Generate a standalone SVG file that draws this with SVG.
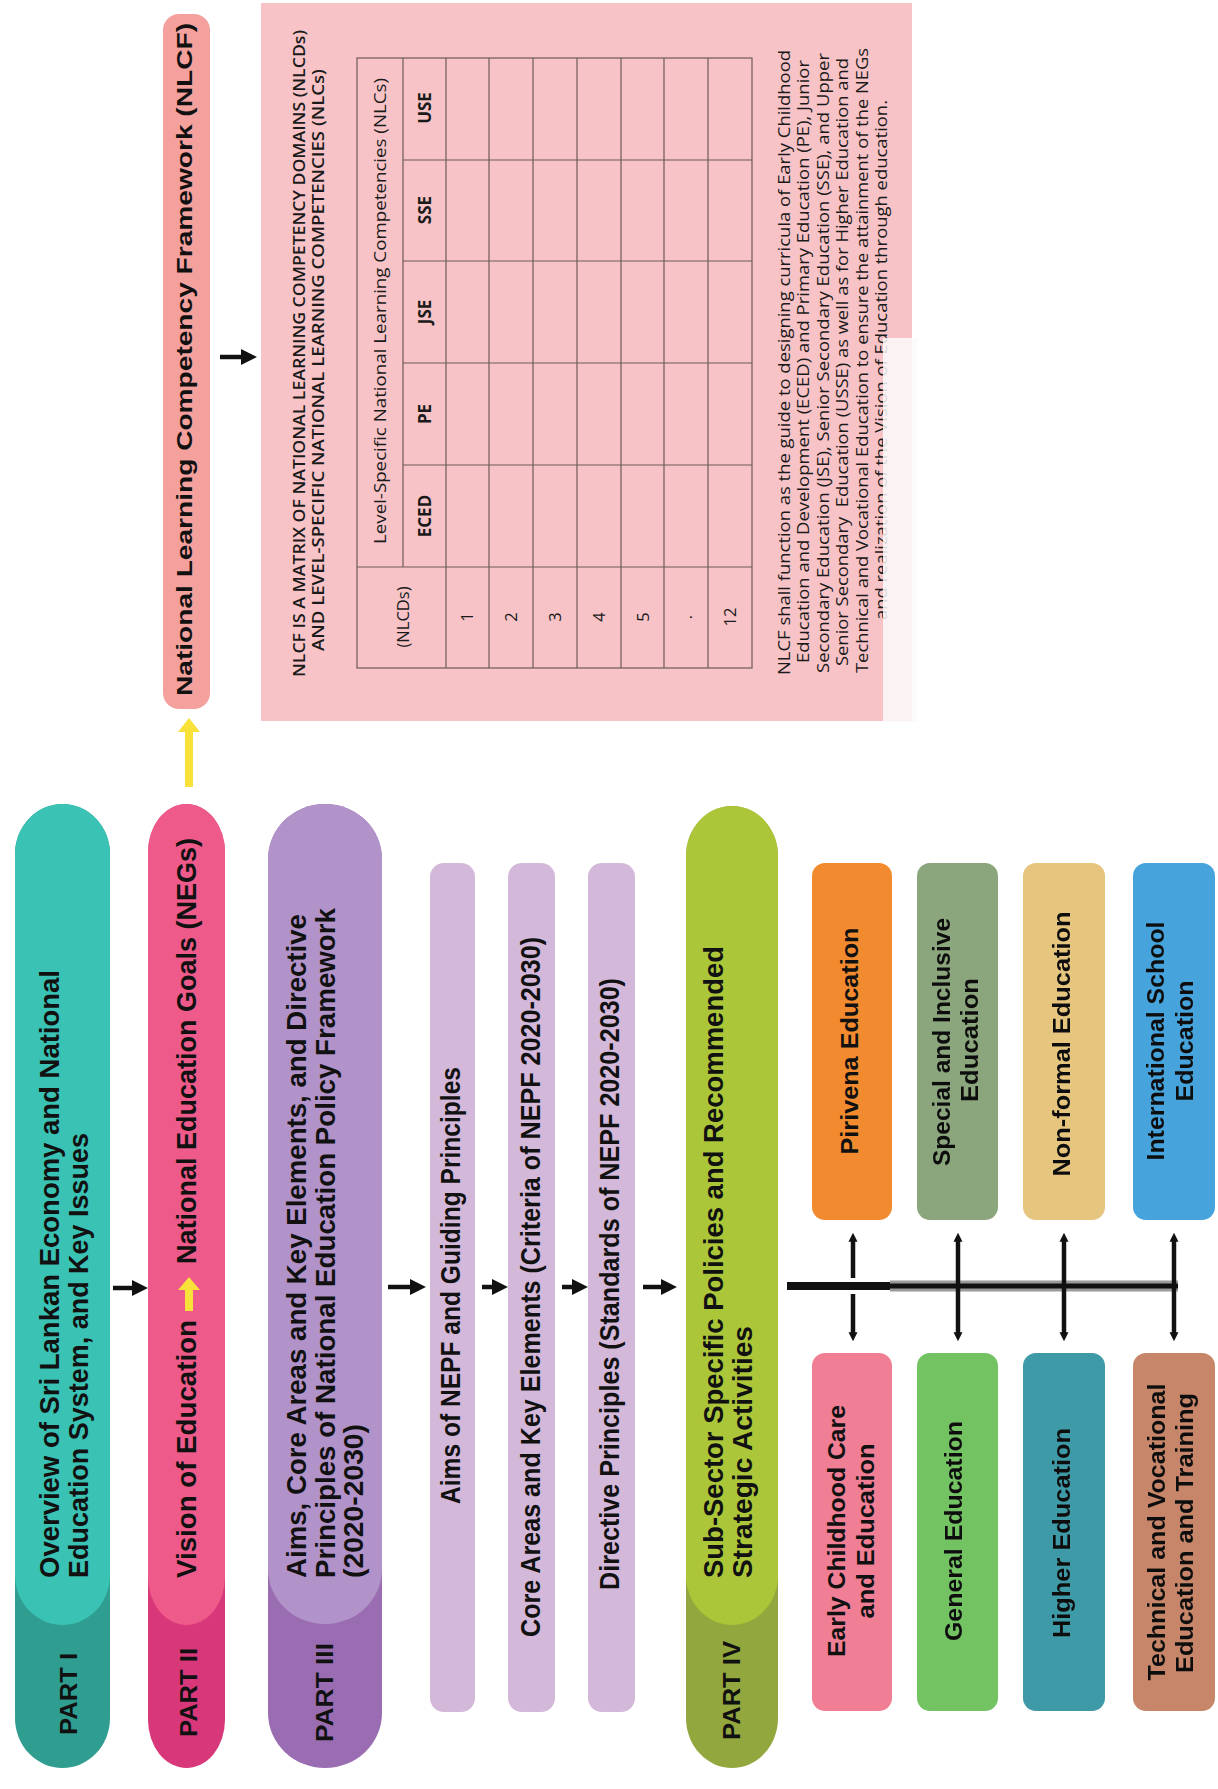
<svg xmlns="http://www.w3.org/2000/svg" width="1218" height="1789" viewBox="0 0 1218 1789">
  <defs>
    <style>
      .hd { font-family: 'Liberation Sans Narrow', 'Liberation Sans', Arial, sans-serif; font-weight: bold; fill: #111; }
      .big { font-size: 27px; }
      .part { font-size: 24px; }
      .box { font-size: 24px; }
      .nlcf { font-size: 22px; }
      .tx { font-family: 'Open Sans', 'Noto Sans', 'Liberation Sans', sans-serif; fill: #1a1a1a; font-weight: 500; }
      .cap { font-size: 16.5px; font-weight: 600; }
      .cell { font-size: 16.5px; }
      .colh { font-size: 17px; font-weight: bold; }
      .para { font-size: 17px; }
      .grid { stroke: #6e5a5c; stroke-width: 1.2; fill: none; }
      .arrow { stroke: #111; stroke-width: 4.5; fill: none; }
      .blurry { filter: url(#soft); }
    </style>
    <filter id="soft" x="-5%" y="-5%" width="110%" height="110%">
      <feGaussianBlur stdDeviation="0.7"/>
    </filter>
    <marker id="ah" viewBox="0 0 10 10" refX="2" refY="5" markerWidth="3.6" markerHeight="4.4" orient="auto" markerUnits="strokeWidth">
      <path d="M0,0 L10,5 L0,10 Z" fill="#111"/>
    </marker>
    <marker id="ahFlat" viewBox="0 0 10 10" refX="2" refY="5" markerWidth="2" markerHeight="5" orient="auto-start-reverse" markerUnits="strokeWidth">
      <path d="M0,0 L10,5 L0,10 Z" fill="#111"/>
    </marker>
  </defs>

  <rect width="1218" height="1789" fill="#ffffff"/>

  <!-- PART I -->
  <g id="part1">
    <rect x="15" y="804" width="95" height="964" rx="47.5" ry="50" fill="#2f9d8f"/>
    <rect x="15" y="804" width="95" height="821" rx="47.5" ry="50" fill="#3ac2b4"/>
    <text class="hd big" transform="translate(59,1578) rotate(-90)" textLength="608" lengthAdjust="spacingAndGlyphs">Overview of Sri Lankan Economy and National</text>
    <text class="hd big" transform="translate(88,1578) rotate(-90)" textLength="445" lengthAdjust="spacingAndGlyphs">Education System, and Key Issues</text>
    <text class="hd part" transform="translate(77,1735) rotate(-90)" textLength="82" lengthAdjust="spacingAndGlyphs">PART I</text>
  </g>

  <!-- PART II -->
  <g id="part2">
    <rect x="148" y="804" width="77" height="964" rx="38.5" ry="48" fill="#d8387a"/>
    <rect x="148" y="804" width="77" height="821" rx="38.5" ry="48" fill="#ee5a8a"/>
    <text class="hd big" transform="translate(196,1578) rotate(-90)" textLength="258" lengthAdjust="spacingAndGlyphs">Vision of Education</text>
    <path d="M189,1277 L200,1290 L193,1290 L193,1311 L185,1311 L185,1290 L178,1290 Z" fill="#f8e23a"/>
    <text class="hd big" transform="translate(196,1264) rotate(-90)" textLength="426" lengthAdjust="spacingAndGlyphs">National Education Goals (NEGs)</text>
    <text class="hd part" transform="translate(197,1737) rotate(-90)" textLength="89" lengthAdjust="spacingAndGlyphs">PART II</text>
  </g>

  <!-- PART III -->
  <g id="part3">
    <rect x="268" y="804" width="114" height="964" rx="57" ry="55" fill="#9a6db2"/>
    <rect x="268" y="804" width="114" height="820" rx="57" ry="55" fill="#b293c9"/>
    <text class="hd big" transform="translate(306,1578) rotate(-90)" textLength="664" lengthAdjust="spacingAndGlyphs">Aims, Core Areas and Key Elements, and Directive</text>
    <text class="hd big" transform="translate(335,1578) rotate(-90)" textLength="670" lengthAdjust="spacingAndGlyphs">Principles of National Education Policy Framework</text>
    <text class="hd big" transform="translate(363,1578) rotate(-90)" textLength="154" lengthAdjust="spacingAndGlyphs">(2020-2030)</text>
    <text class="hd part" transform="translate(333,1742) rotate(-90)" textLength="99" lengthAdjust="spacingAndGlyphs">PART III</text>
  </g>

  <!-- PART III sub-bars -->
  <g id="aims">
    <rect x="430" y="863" width="45" height="849" rx="14" fill="#d3b8da"/>
    <text class="hd big" transform="translate(460,1504) rotate(-90)" textLength="437" lengthAdjust="spacingAndGlyphs">Aims of NEPF and Guiding Principles</text>
  </g>
  <g id="core-areas">
    <rect x="508" y="863" width="47" height="849" rx="14" fill="#d3b8da"/>
    <text class="hd big" transform="translate(540,1637) rotate(-90)" textLength="700" lengthAdjust="spacingAndGlyphs">Core Areas and Key Elements (Criteria of NEPF 2020-2030)</text>
  </g>
  <g id="directive">
    <rect x="588" y="863" width="47" height="849" rx="14" fill="#d3b8da"/>
    <text class="hd big" transform="translate(619,1590) rotate(-90)" textLength="612" lengthAdjust="spacingAndGlyphs">Directive Principles (Standards of NEPF 2020-2030)</text>
  </g>

  <!-- PART IV -->
  <g id="part4">
    <rect x="686" y="806" width="92" height="962" rx="46" ry="50" fill="#92a73e"/>
    <rect x="686" y="806" width="92" height="819" rx="46" ry="50" fill="#acc63a"/>
    <text class="hd big" transform="translate(723,1578) rotate(-90)" textLength="632" lengthAdjust="spacingAndGlyphs">Sub-Sector Specific Policies and Recommended</text>
    <text class="hd big" transform="translate(752,1578) rotate(-90)" textLength="252" lengthAdjust="spacingAndGlyphs">Strategic Activities</text>
    <text class="hd part" transform="translate(740,1740) rotate(-90)" textLength="99" lengthAdjust="spacingAndGlyphs">PART IV</text>
  </g>

  <!-- Sub-sectors -->
  <g id="pirivena">
    <rect x="812" y="863" width="80" height="357" rx="13" fill="#f28b2f"/>
    <text class="hd box" text-anchor="middle" transform="translate(858,1041) rotate(-90)" textLength="227" lengthAdjust="spacingAndGlyphs">Pirivena Education</text>
  </g>
  <g id="ecce">
    <rect x="812" y="1353" width="80" height="358" rx="13" fill="#f07e95"/>
    <text class="hd box" text-anchor="middle" transform="translate(845,1531) rotate(-90)" textLength="252" lengthAdjust="spacingAndGlyphs">Early Childhood Care</text>
    <text class="hd box" text-anchor="middle" transform="translate(874,1531) rotate(-90)" textLength="175" lengthAdjust="spacingAndGlyphs">and Education</text>
  </g>
  <g id="special" class="blurry">
    <rect x="917" y="863" width="81" height="357" rx="13" fill="#8ba67b"/>
    <text class="hd box" text-anchor="middle" transform="translate(950,1042) rotate(-90)" textLength="248" lengthAdjust="spacingAndGlyphs">Special and Inclusive</text>
    <text class="hd box" text-anchor="middle" transform="translate(978,1040) rotate(-90)" textLength="124" lengthAdjust="spacingAndGlyphs">Education</text>
  </g>
  <g id="general" class="blurry">
    <rect x="917" y="1353" width="81" height="358" rx="13" fill="#73c364"/>
    <text class="hd box" text-anchor="middle" transform="translate(962,1531) rotate(-90)" textLength="220" lengthAdjust="spacingAndGlyphs">General Education</text>
  </g>
  <g id="non-formal" class="blurry">
    <rect x="1023" y="863" width="82" height="357" rx="13" fill="#e6c57f"/>
    <text class="hd box" text-anchor="middle" transform="translate(1070,1044) rotate(-90)" textLength="265" lengthAdjust="spacingAndGlyphs">Non-formal Education</text>
  </g>
  <g id="higher" class="blurry">
    <rect x="1023" y="1353" width="82" height="358" rx="13" fill="#3e9aa6"/>
    <text class="hd box" text-anchor="middle" transform="translate(1070,1533) rotate(-90)" textLength="210" lengthAdjust="spacingAndGlyphs">Higher Education</text>
  </g>
  <g id="international" class="blurry">
    <rect x="1133" y="863" width="82" height="357" rx="13" fill="#46a3dc"/>
    <text class="hd box" text-anchor="middle" transform="translate(1164,1041) rotate(-90)" textLength="239" lengthAdjust="spacingAndGlyphs">International School</text>
    <text class="hd box" text-anchor="middle" transform="translate(1193,1041) rotate(-90)" textLength="121" lengthAdjust="spacingAndGlyphs">Education</text>
  </g>
  <g id="tvet" class="blurry">
    <rect x="1133" y="1353" width="82" height="358" rx="13" fill="#c7866a"/>
    <text class="hd box" text-anchor="middle" transform="translate(1165,1532) rotate(-90)" textLength="297" lengthAdjust="spacingAndGlyphs">Technical and Vocational</text>
    <text class="hd box" text-anchor="middle" transform="translate(1193,1533) rotate(-90)" textLength="280" lengthAdjust="spacingAndGlyphs">Education and Training</text>
  </g>

  <!-- NLCF title bar -->
  <g id="nlcf">
    <rect x="163" y="14" width="47" height="695" rx="16" fill="#f4a09d"/>
    <text class="hd nlcf" transform="translate(192,696) rotate(-90)" textLength="673" lengthAdjust="spacingAndGlyphs">National Learning Competency Framework (NLCF)</text>
  </g>

  <!-- NLCF matrix panel -->
  <g id="nlcf-matrix">
    <rect x="261" y="3" width="651" height="718" fill="#f7c3c6"/>
    <text class="tx cap" transform="translate(305,677) rotate(-90)" textLength="647" lengthAdjust="spacingAndGlyphs">NLCF IS A MATRIX OF NATIONAL LEARNING COMPETENCY DOMAINS (NLCDs)</text>
    <text class="tx cap" transform="translate(324,651) rotate(-90)" textLength="582" lengthAdjust="spacingAndGlyphs">AND LEVEL-SPECIFIC NATIONAL LEARNING COMPETENCIES (NLCs)</text>

    <!-- table grid -->
    <rect class="grid" x="357" y="58" width="395" height="610"/>
    <path class="grid" d="M403,58 V567 M446,58 V668 M489,58 V668 M533,58 V668 M577,58 V668 M621,58 V668 M664,58 V668 M708,58 V668"/>
    <path class="grid" d="M403,160 H752 M403,261 H752 M403,363 H752 M403,465 H752 M357,567 H752"/>

    <text class="tx cell" text-anchor="middle" transform="translate(386,311) rotate(-90)" textLength="466" lengthAdjust="spacingAndGlyphs">Level-Specific National Learning Competencies (NLCs)</text>
    <text class="tx cell" text-anchor="middle" transform="translate(409,617) rotate(-90)">(NLCDs)</text>
    <text class="tx colh" text-anchor="middle" transform="translate(431,516) rotate(-90)">ECED</text>
    <text class="tx colh" text-anchor="middle" transform="translate(431,414) rotate(-90)">PE</text>
    <text class="tx colh" text-anchor="middle" transform="translate(431,312) rotate(-90)">JSE</text>
    <text class="tx colh" text-anchor="middle" transform="translate(431,210) rotate(-90)">SSE</text>
    <text class="tx colh" text-anchor="middle" transform="translate(431,108) rotate(-90)">USE</text>

    <text class="tx cell" text-anchor="middle" transform="translate(473,617) rotate(-90)">1</text>
    <text class="tx cell" text-anchor="middle" transform="translate(517,617) rotate(-90)">2</text>
    <text class="tx cell" text-anchor="middle" transform="translate(561,617) rotate(-90)">3</text>
    <text class="tx cell" text-anchor="middle" transform="translate(605,617) rotate(-90)">4</text>
    <text class="tx cell" text-anchor="middle" transform="translate(649,617) rotate(-90)">5</text>
    <text class="tx cell" text-anchor="middle" transform="translate(692,617) rotate(-90)">.</text>
    <text class="tx cell" text-anchor="middle" transform="translate(736,617) rotate(-90)">12</text>

    <text class="tx para" transform="translate(790,675) rotate(-90)" textLength="625" lengthAdjust="spacingAndGlyphs">NLCF shall function as the guide to designing curricula of Early Childhood</text>
    <text class="tx para" transform="translate(809,663) rotate(-90)" textLength="603" lengthAdjust="spacingAndGlyphs">Education and Development (ECED) and Primary Education (PE), Junior</text>
    <text class="tx para" transform="translate(829,673) rotate(-90)" textLength="620" lengthAdjust="spacingAndGlyphs">Secondary Education (JSE), Senior Secondary Education (SSE), and Upper</text>
    <text class="tx para" transform="translate(848,666) rotate(-90)" textLength="608" lengthAdjust="spacingAndGlyphs" xml:space="preserve">Senior Secondary  Education (USSE) as well as for Higher Education and</text>
    <text class="tx para" transform="translate(868,673) rotate(-90)" textLength="625" lengthAdjust="spacingAndGlyphs">Technical and Vocational Education to ensure the attainment of the NEGs</text>
    <text class="tx para" transform="translate(887,620) rotate(-90)" textLength="520" lengthAdjust="spacingAndGlyphs">and realization of the Vision of Education through education.</text>
    <rect x="883" y="338" width="34" height="384" fill="#fafafa" opacity="0.85"/>
  </g>

  <!-- connectors -->
  <g id="connectors">
    <rect x="185" y="730" width="8" height="57" fill="#f8e23a"/>
    <path d="M189,718 L200,732 L178,732 Z" fill="#f8e23a"/>

    <line class="arrow" x1="220" y1="357" x2="244" y2="357" marker-end="url(#ah)"/>

    <line class="arrow" x1="113" y1="1288" x2="135" y2="1288" marker-end="url(#ah)"/>
    <line class="arrow" x1="388" y1="1287" x2="413" y2="1287" marker-end="url(#ah)"/>
    <line class="arrow" x1="482" y1="1287" x2="495" y2="1287" marker-end="url(#ah)"/>
    <line class="arrow" x1="562" y1="1287" x2="575" y2="1287" marker-end="url(#ah)"/>
    <line class="arrow" x1="643" y1="1287" x2="664" y2="1287" stroke-width="5.5" marker-end="url(#ah)"/>

    <line x1="787" y1="1286" x2="890" y2="1286" stroke="#111" stroke-width="8"/>
    <line x1="890" y1="1286" x2="1178" y2="1286" stroke="#9a9a9a" stroke-width="11"/>
    <line x1="890" y1="1286" x2="1178" y2="1286" stroke="#111" stroke-width="5"/>

    <line class="arrow" x1="853" y1="1278" x2="853" y2="1240" stroke-width="4" marker-end="url(#ahFlat)"/>
    <line class="arrow" x1="853" y1="1294" x2="853" y2="1334" stroke-width="4" marker-end="url(#ahFlat)"/>
    <line class="arrow" x1="958" y1="1240" x2="958" y2="1334" stroke-width="4" marker-start="url(#ahFlat)" marker-end="url(#ahFlat)"/>
    <line class="arrow" x1="1064" y1="1240" x2="1064" y2="1334" stroke-width="4" marker-start="url(#ahFlat)" marker-end="url(#ahFlat)"/>
    <line class="arrow" x1="1174" y1="1240" x2="1174" y2="1334" stroke-width="4" marker-start="url(#ahFlat)" marker-end="url(#ahFlat)"/>
  </g>
</svg>
